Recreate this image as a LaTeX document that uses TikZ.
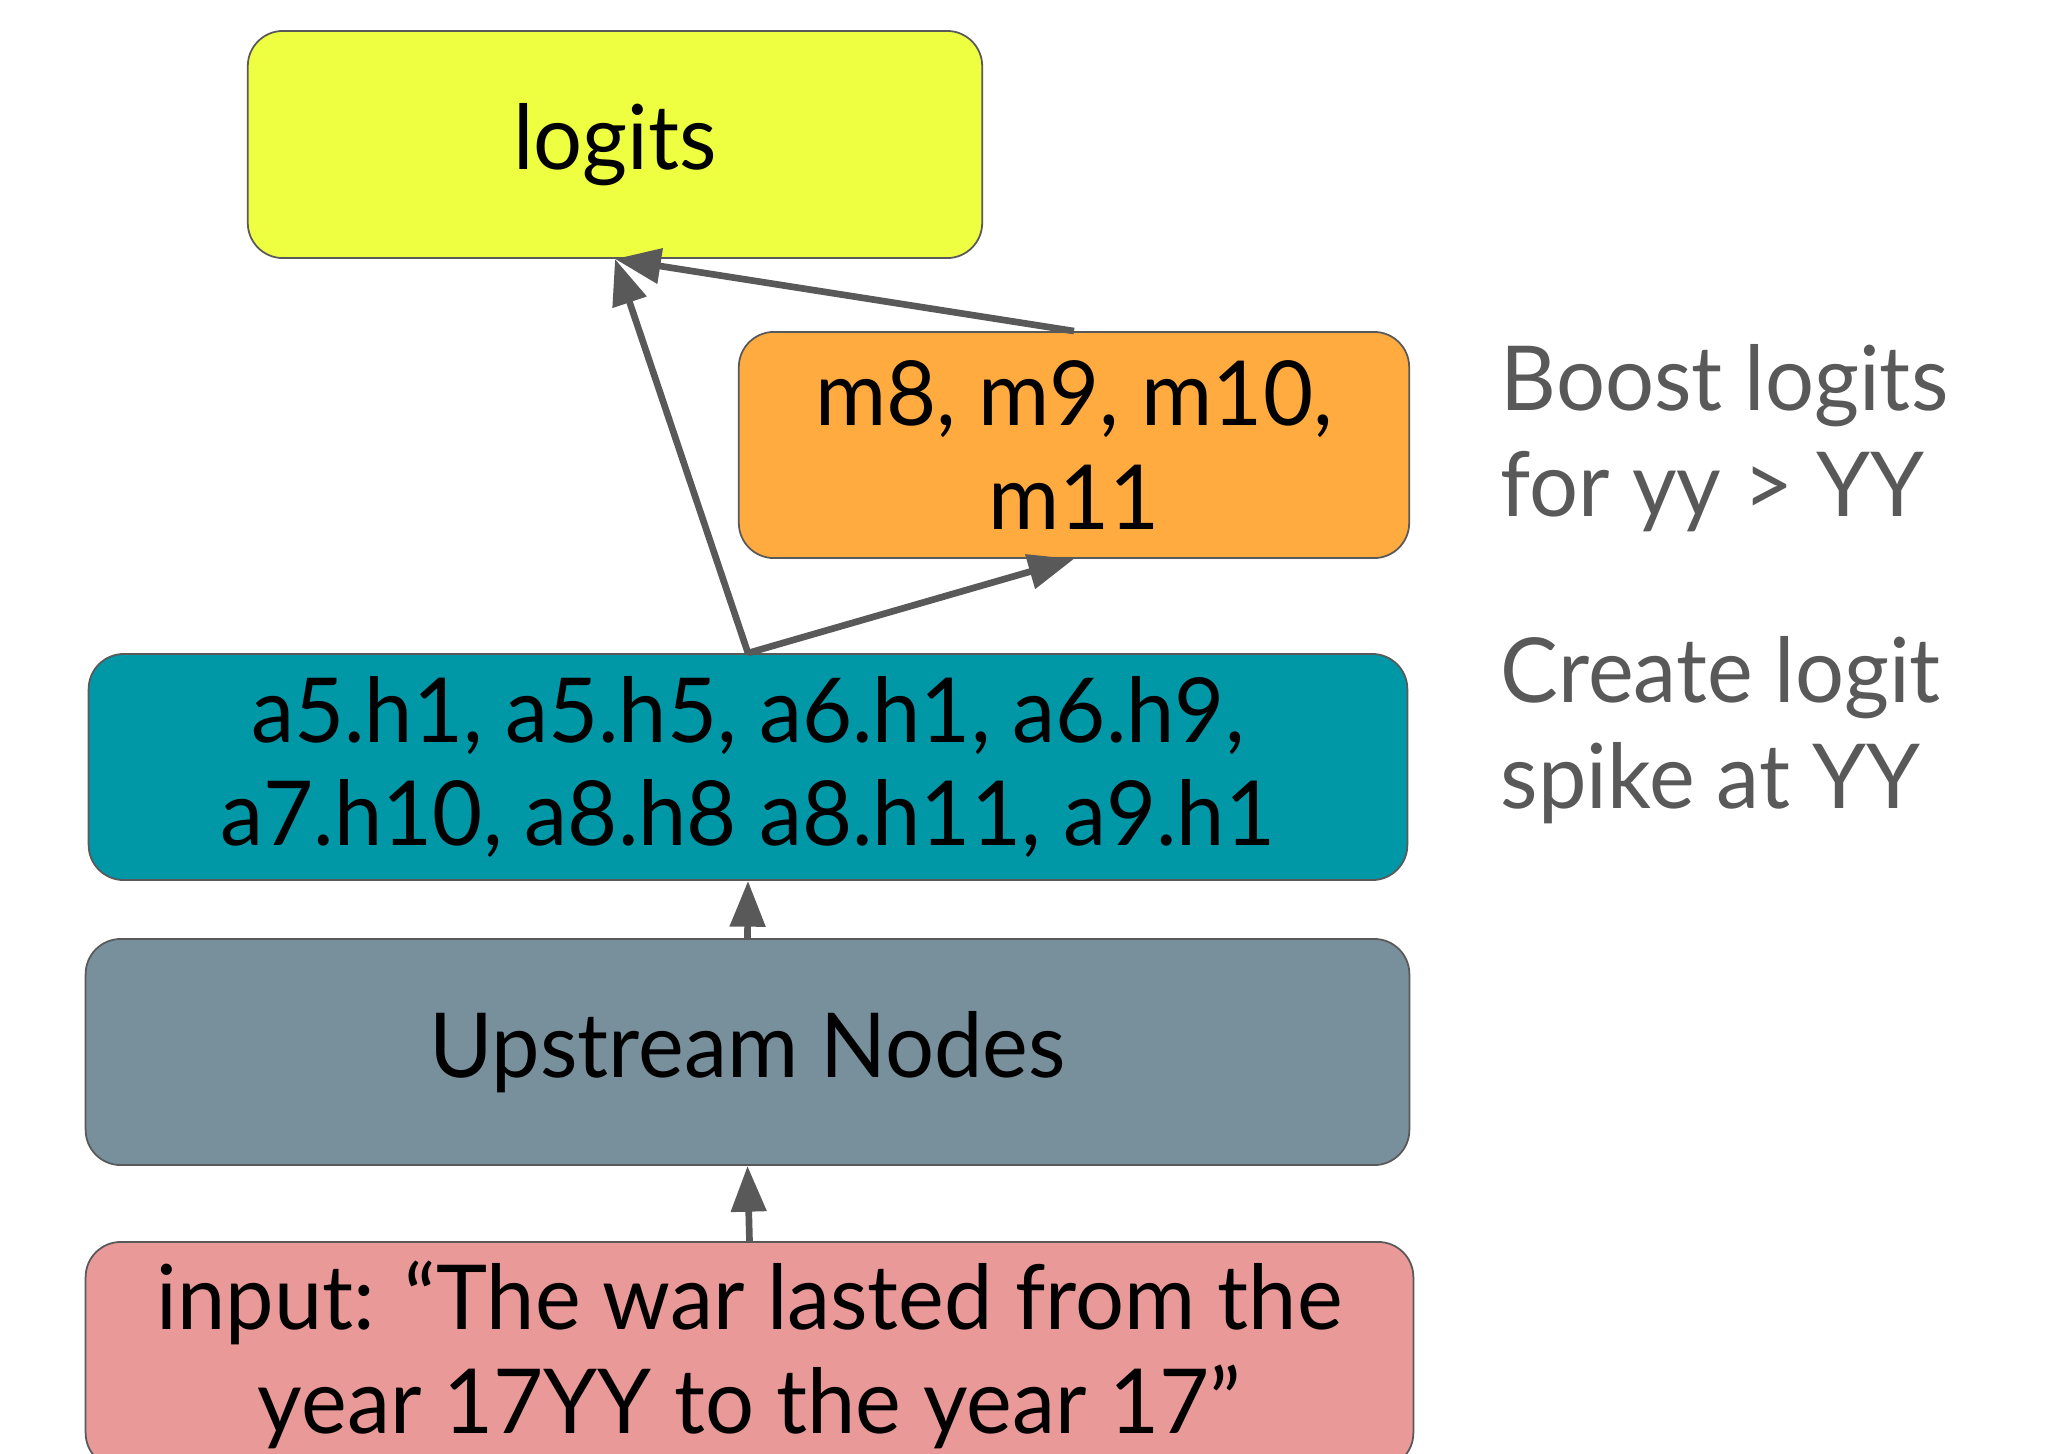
\documentclass[tikz,border=0pt]{standalone}
\usepackage{fontspec}
\setmainfont{Lato}[FakeStretch=0.965]
\usetikzlibrary{arrows.meta}
\definecolor{bordergray}{HTML}{595959}
\definecolor{arrowgray}{HTML}{595959}
\definecolor{logitsyellow}{HTML}{EEFF41}
\definecolor{mlporange}{HTML}{FFAB40}
\definecolor{headteal}{HTML}{0097A7}
\definecolor{upgray}{HTML}{78909C}
\definecolor{inputpink}{HTML}{EA9999}
\definecolor{notegray}{HTML}{595959}
\begin{document}
\begin{tikzpicture}[x=0.01cm,y=-0.01cm,
  box/.style={draw=bordergray, line width=0.5pt, rounded corners=10pt, inner sep=0pt,
    align=center, text=black, font=\fontsize{25.5}{29.5}\selectfont, minimum height=2.26cm},
  arr/.style={draw=arrowgray, line width=1.9pt, -{Triangle[length=13pt,width=9.8pt]}},
  note/.style={anchor=base west, align=left, inner sep=0pt, text=notegray,
    font=\fontsize{25.5}{30}\selectfont}]
\useasboundingbox (0,0) rectangle (2050,1453);
\clip (0,0) rectangle (2050,1453);
\node[box, fill=logitsyellow, minimum width=7.34cm, minimum height=2.27cm] (logits) at (615,144.5) {logits};
\node[box, fill=mlporange, minimum width=6.70cm] (mlp) at (1074,445) {m8, m9, m10,\\m11};
\node[box, fill=headteal, minimum width=13.18cm] (heads) at (748,767) {a5.h1, a5.h5, a6.h1, a6.h9,\\a7.h10, a8.h8 a8.h11, a9.h1};
\node[box, fill=upgray, minimum width=13.23cm] (up) at (747.5,1052) {Upstream Nodes};
\node[box, fill=inputpink, minimum width=13.27cm] (input) at (749.5,1355) {input: “The war lasted from the\\year 17YY to the year 17”};
\node[note] (n1) at (1500,516) {Boost logits\\for yy > YY};
\node[note] (n2) at (1500,808) {Create logit\\spike at YY};
\draw[arr] (heads.north) -- (logits.south);
\draw[arr] (heads.north) -- (mlp.south);
\draw[arr] (mlp.north) -- (logits.south);
\draw[arr] (up.north) -- (heads.south);
\draw[arr] (input.north) -- (up.south);
\end{tikzpicture}
\end{document}
